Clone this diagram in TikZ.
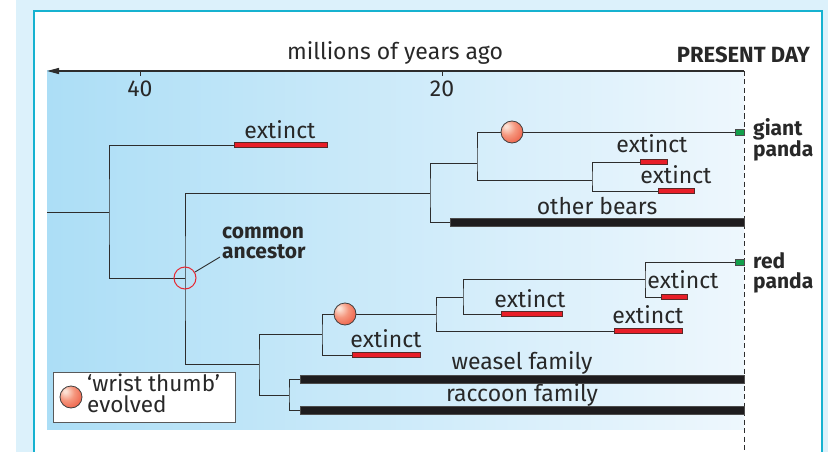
\documentclass[tikz,border=0pt]{standalone}
\usepackage{fontspec}
\setmainfont{Fira Sans}
\usetikzlibrary{arrows.meta}
\definecolor{outerbg}{RGB}{220,241,251}
\definecolor{framec}{RGB}{22,178,208}
\definecolor{gradL}{RGB}{172,222,246}
\definecolor{gradR}{RGB}{238,247,253}
\definecolor{linec}{RGB}{45,45,45}
\definecolor{textc}{RGB}{40,40,40}
\definecolor{barRed}{RGB}{232,30,40}
\definecolor{barEdge}{RGB}{90,40,40}
\definecolor{barBlack}{RGB}{30,28,30}
\definecolor{greenc}{RGB}{20,160,75}
\definecolor{ballhi}{RGB}{252,225,212}
\definecolor{ballmid}{RGB}{245,150,125}
\definecolor{ballc}{RGB}{236,82,58}
\definecolor{balldk}{RGB}{212,48,34}
\definecolor{ancc}{RGB}{230,40,50}
\pgfdeclareradialshading{thumbball}{\pgfpoint{-14bp}{14bp}}{%
  color(0bp)=(ballhi); color(3bp)=(ballhi); color(18bp)=(ballmid);
  color(40bp)=(ballc); color(68bp)=(balldk)}
\begin{document}
\begin{tikzpicture}[x=1pt,y=-1pt,
  branch/.style={draw=linec,line width=1pt},
  redbar/.style={draw=barEdge,fill=barRed,line width=0.7pt,minimum height=5.5pt,inner sep=0,anchor=west,rectangle},
  blackbar/.style={draw=black!70,fill=barBlack,line width=0.5pt,minimum height=7.5pt,inner sep=0,anchor=west,rectangle},
  greenbox/.style={draw=black!70,fill=greenc,line width=0.6pt,minimum width=9pt,minimum height=6pt,inner sep=0,anchor=west,rectangle},
  thumb/.style={circle,minimum size=22pt,inner sep=0,shading=thumbball,draw=black!75,line width=0.8pt},
  lbl/.style={font=\fontsize{23}{24}\selectfont,text=textc,inner sep=0,anchor=base},
  blbl/.style={font=\bfseries\fontsize{21}{20}\selectfont,text=textc,inner sep=0,anchor=base west,align=left}]
\useasboundingbox (0,0) rectangle (828,452);
% background and frame
\fill[outerbg] (0,0) rectangle (828,452);
\fill[white] (0,0) rectangle (16,452);
\fill[white] (34,11) rectangle (822,452);
\draw[framec,line width=2pt] (34,452) -- (34,11) -- (822,11) -- (822,452);
\shade[left color=gradL,right color=gradR] (47,71) rectangle (744,429);
% axis
\coordinate (axR) at (744,71);
\coordinate (axL) at (47,71);
\draw[linec,line width=1.2pt,-{Triangle[length=12pt,width=6pt]}] (axR) -- (axL);
\coordinate (t40) at (140,71);
\coordinate (t20) at (442,71);
\draw[linec,line width=0.8pt] (t40) -- ++(0,5);
\draw[linec,line width=0.8pt] (t20) -- ++(0,5);
\draw[linec,line width=1pt,dash pattern=on 5pt off 3.5pt] (axR) -- (744,452);
\node[lbl] (l40) at (140,97) {40};
\node[lbl] (l20) at (442,97) {20};
\node[lbl] (myr) at (395,60) {millions of years ago};
\node[font=\bfseries\fontsize{22}{24}\selectfont,text=textc,inner sep=0,anchor=base east] (pd) at (810,63) {PRESENT DAY};
% tree coordinates
\coordinate (r0) at (47,212);
\coordinate (nA) at (109,212);
\coordinate (nCA) at (185,278);
\coordinate (nB) at (430,193);
\coordinate (nC) at (477,163);
\coordinate (nD) at (592,180);
\coordinate (nE) at (259,364);
\coordinate (nF) at (322,334);
\coordinate (nG) at (436,314);
\coordinate (nH) at (463,297);
\coordinate (nI) at (645,279);
\coordinate (nJ) at (289,395);
% bars
\node[redbar,minimum width=93pt] (x1) at (234,145) {};
\node[redbar,minimum width=27pt] (x2) at (640,162) {};
\node[redbar,minimum width=36pt] (x3) at (658,191) {};
\node[blackbar,minimum width=294pt] (ob) at (450,222) {};
\node[greenbox] (gp) at (735,132) {};
\node[greenbox] (rp) at (735,262) {};
\node[redbar,minimum width=26pt] (x7) at (661,297) {};
\node[redbar,minimum width=61pt] (x6) at (501,314) {};
\node[redbar,minimum width=68pt] (x5) at (614,331) {};
\node[redbar,minimum width=68pt] (x4) at (352,355) {};
\node[blackbar,minimum width=444pt] (wf) at (300,379) {};
\node[blackbar,minimum width=444pt] (rf) at (300,410) {};
% branches
\draw[branch] (r0) -- (nA);
\draw[branch] (x1.west) -| (nA) |- (nCA);
\draw[branch] (nB) -| (nCA) |- (nE);
\draw[branch] (nC) -| (nB) |- (ob.west);
\draw[branch] (gp.west) -| (nC) |- (nD);
\draw[branch] (x2.west) -| (nD) |- (x3.west);
\draw[branch] (nF) -| (nE) |- (nJ);
\draw[branch] (nG) -| (nF) |- (x4.west);
\draw[branch] (nH) -| (nG) |- (x5.west);
\draw[branch] (nI) -| (nH) |- (x6.west);
\draw[branch] (rp.west) -| (nI) |- (x7.west);
\draw[branch] (wf.west) -| (nJ) |- (rf.west);
% wrist thumb balls
\node[thumb] (b1) at (512,132) {};
\node[thumb] (b2) at (345,314) {};
% common ancestor
\node[circle,draw=ancc,line width=1pt,minimum size=22pt,inner sep=0] (ca) at (nCA) {};
\node[blbl,font=\bfseries\fontsize{21}{20}\selectfont] (cal) at (222,258) {common\\ancestor};
\coordinate (calp) at (220,257);
\draw[linec,line width=0.9pt] (ca) -- (calp);
% labels
\node[lbl] (lx1) at (280,138) {extinct};
\node[lbl] (lx2) at (652,153) {extinct};
\node[lbl] (lx3) at (676,183) {extinct};
\node[lbl] (lob) at (597,214) {other bears};
\node[lbl] (lx7) at (683,288) {extinct};
\node[lbl] (lx6) at (530,307) {extinct};
\node[lbl] (lx5) at (648,323) {extinct};
\node[lbl] (lx4) at (386,347) {extinct};
\node[lbl] (lwf) at (522,369) {weasel family};
\node[lbl] (lrf) at (522,401) {raccoon family};
\node[blbl] (lgp) at (753,157) {giant\\panda};
\node[blbl] (lrp) at (753,288) {red\\panda};
% legend
\node[draw=black!65,fill=white,line width=1pt,minimum width=182pt,minimum height=50pt,inner sep=0,anchor=north west] (leg) at (53,372) {};
\node[thumb] (lb) at (71,397) {};
\node[lbl,anchor=base west,align=left,font=\fontsize{22.5}{21}\selectfont] (lt) at (87,412) {‘wrist thumb’\\evolved};
\end{tikzpicture}
\end{document}
